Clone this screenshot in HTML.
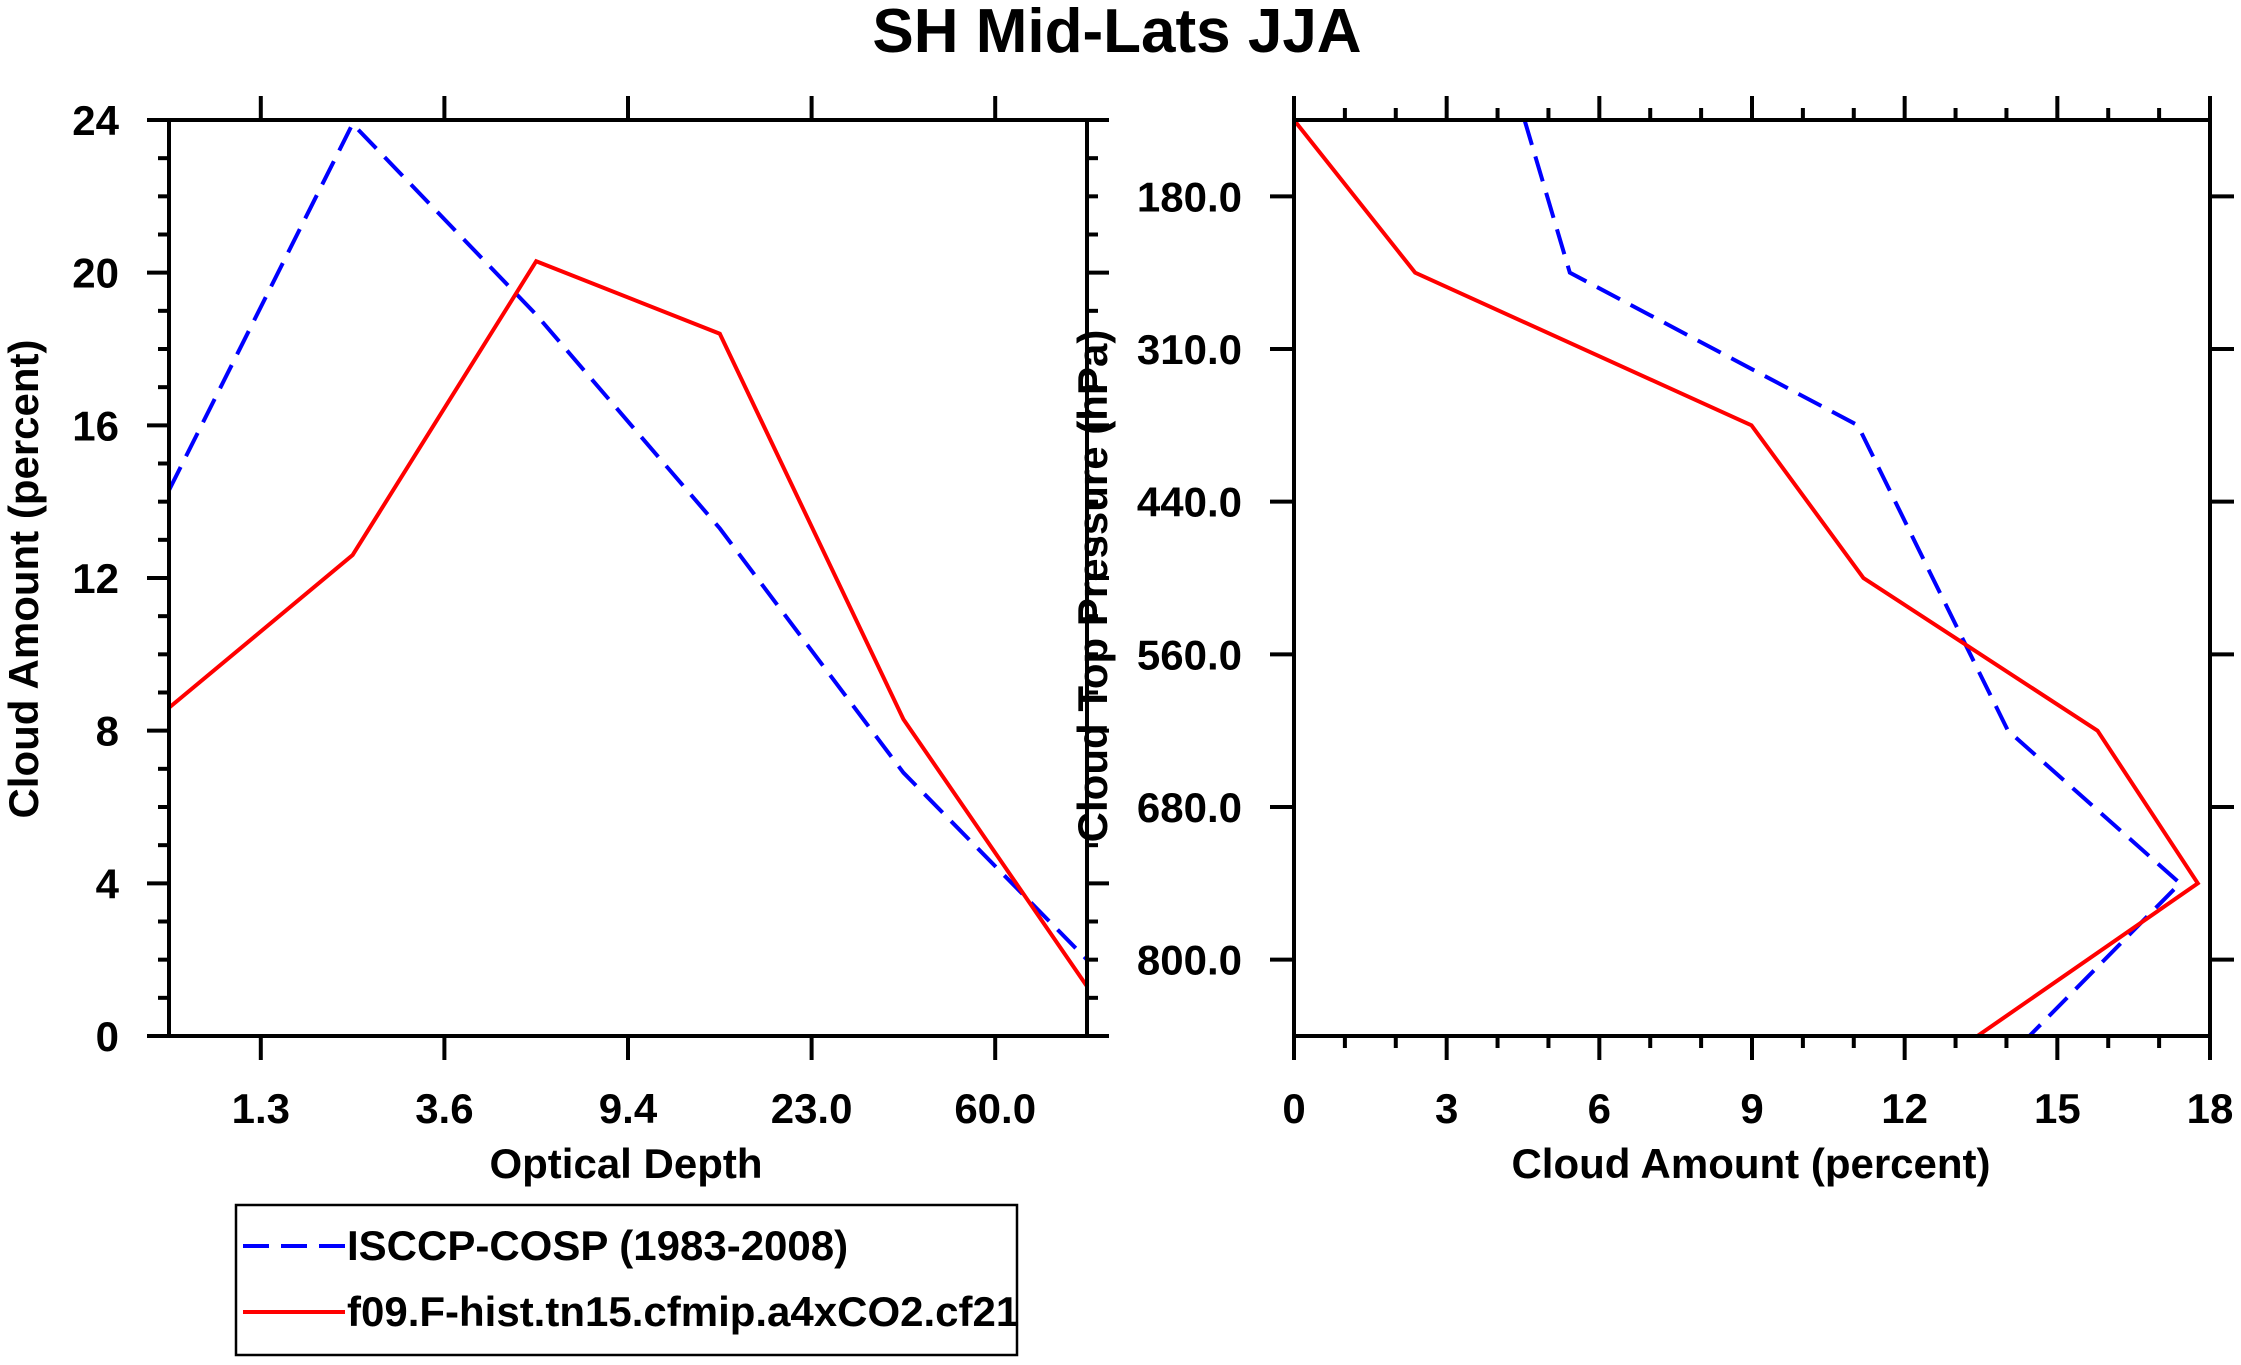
<!DOCTYPE html>
<html><head><meta charset="utf-8"><style>
html,body{margin:0;padding:0;background:#fff}
svg{display:block;font-family:"Liberation Sans",Arial,sans-serif;font-weight:bold}
</style></head><body>
<svg id="c" width="2241" height="1365" viewBox="0 0 2241 1365" xmlns="http://www.w3.org/2000/svg">
<text x="1117" y="52" font-size="62" text-anchor="middle">SH Mid-Lats JJA</text>
<g id="left"></g>
<g id="right"></g>
<g>
<rect x="236" y="1205" width="781" height="150" fill="none" stroke="#000" stroke-width="2.5"/>
<line x1="243" y1="1246" x2="345" y2="1246" stroke="#00f" stroke-width="4" stroke-dasharray="26,12"/>
<text x="347" y="1260" font-size="42">ISCCP-COSP (1983-2008)</text>
<line x1="243" y1="1312" x2="345" y2="1312" stroke="#f00" stroke-width="4"/>
<text x="347" y="1326" font-size="42">f09.F-hist.tn15.cfmip.a4xCO2.cf21</text>
</g>
</svg>
<script>
const tauTickLabels=["1.3","3.6","9.4","23.0","60.0"];
const tauIsccp=[14.3,23.9,18.9,13.3,6.9,2.0];
const tauModel=[8.6,12.6,20.3,18.4,8.3,1.3];
const leftYTicks=[0,4,8,12,16,20,24];
const pTickLabels=["180.0","310.0","440.0","560.0","680.0","800.0"];
const pIsccp=[4.53,5.42,11.08,12.55,14.03,17.41,14.45];
const pModel=[0,2.38,8.99,11.19,15.79,17.76,13.43];
const rightXTicks=[0,3,6,9,12,15,18];

const NS="http://www.w3.org/2000/svg";
const FS=42;
function mk(p,t,a){const e=document.createElementNS(NS,t);for(const k in a)e.setAttribute(k,a[k]);p.appendChild(e);return e;}
function ln(p,x1,y1,x2,y2,name){const e=mk(p,'line',{x1,y1,x2,y2,stroke:'#000','stroke-width':4});

return e;}
function tx(p,x,y,s,anchor,name,fs){const e=mk(p,'text',{x,y,'font-size':fs||FS,'text-anchor':anchor});e.textContent=s;

return e;}
function series(p,pts,color,dash,name){const e=mk(p,'polyline',{points:pts.map(q=>q.join(',')).join(' '),fill:'none',stroke:color,'stroke-width':4,'stroke-linejoin':'miter'});
if(dash)e.setAttribute('stroke-dasharray','26,12');

}

// LEFT
const L=document.getElementById('left');
const lx0=169,lx1=1087,ly0=120,ly1=1036;
const lxs=i=>lx0+(lx1-lx0)*i/(tauIsccp.length-1);
const lys=v=>ly1-(ly1-ly0)*v/24;
for(let v=0;v<=24;v++){const maj=v%4===0,len=maj?22:11,y=lys(v);
ln(L,lx0-len,y,lx0,y,'left-y-tick');ln(L,lx1,y,lx1+len,y,'left-y-tick-right');}
leftYTicks.forEach(v=>tx(L,lx0-50,lys(v)+15,String(v),'end','left-y-tick-label'));
tauTickLabels.forEach((s,i)=>{const x=lxs(i+0.5);ln(L,x,ly1,x,ly1+24,'left-x-tick');ln(L,x,ly0-24,x,ly0,'left-x-tick-top');
tx(L,x,1123,s,'middle','left-x-tick-label');});
series(L,tauIsccp.map((v,i)=>[lxs(i),lys(v)]),'#00f',true,'isccp-optical-depth-line');
series(L,tauModel.map((v,i)=>[lxs(i),lys(v)]),'#f00',false,'model-optical-depth-line');
mk(L,'rect',{x:lx0,y:ly0,width:lx1-lx0,height:ly1-ly0,fill:'none',stroke:'#000','stroke-width':4});
tx(L,626,1178,'Optical Depth','middle','left-x-axis-title',42);
const lt=tx(L,0,0,'Cloud Amount (percent)','middle','left-y-axis-title',42);lt.setAttribute('transform','translate(38,579) rotate(-90)');

// RIGHT
const R=document.getElementById('right');
const rx0=1294,rx1=2210,ry0=120,ry1=1036;
const rxs=v=>rx0+(rx1-rx0)*v/18;
const rys=i=>ry0+(ry1-ry0)*i/(pIsccp.length-1);
for(let v=0;v<=18;v++){const maj=v%3===0,len=maj?24:12,x=rxs(v);
ln(R,x,ry1,x,ry1+len,'right-x-tick');ln(R,x,ry0-len,x,ry0,'right-x-tick-top');}
rightXTicks.forEach(v=>tx(R,rxs(v),1123,String(v),'middle','right-x-tick-label'));
pTickLabels.forEach((s,i)=>{const y=rys(i+0.5);ln(R,rx0-24,y,rx0,y,'right-y-tick');ln(R,rx1,y,rx1+24,y,'right-y-tick-right');
tx(R,rx0-52,y+15,s,'end','right-y-tick-label');});
series(R,pIsccp.map((v,i)=>[rxs(v),rys(i)]),'#00f',true,'isccp-pressure-line');
series(R,pModel.map((v,i)=>[rxs(v),rys(i)]),'#f00',false,'model-pressure-line');
mk(R,'rect',{x:rx0,y:ry0,width:rx1-rx0,height:ry1-ry0,fill:'none',stroke:'#000','stroke-width':4});
tx(R,1751,1178,'Cloud Amount (percent)','middle','right-x-axis-title',42);
const rt=tx(R,0,0,'Cloud Top Pressure (hPa)','middle','right-y-axis-title',42);rt.setAttribute('transform','translate(1107,586) rotate(-90)');
</script>
</body></html>
